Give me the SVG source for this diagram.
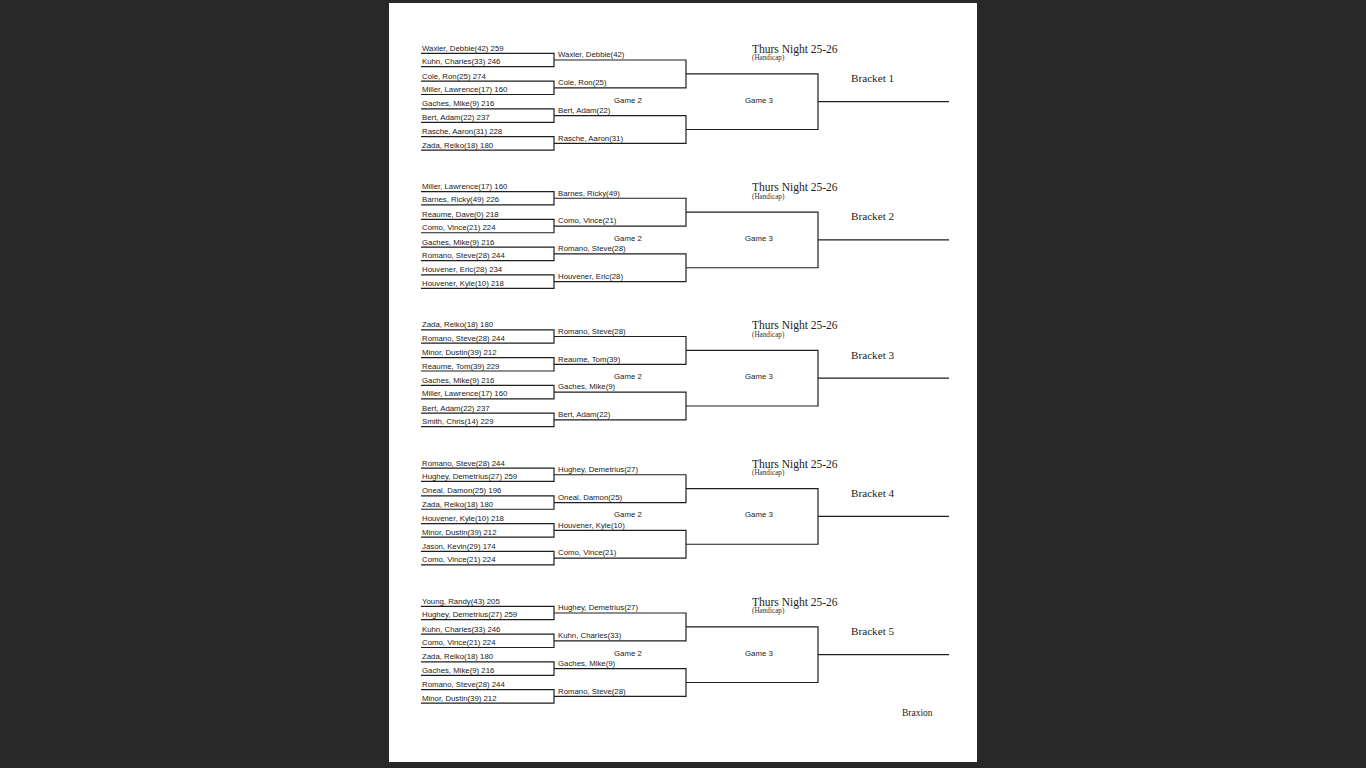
<svg xmlns="http://www.w3.org/2000/svg" xmlns:xlink="http://www.w3.org/1999/xlink" width="1366" height="768" viewBox="0 0 1366 768">
<style>
.ln{fill:none;stroke:#1e1e1e;stroke-width:1.2}
.nm{font-family:"Liberation Sans",Arial,sans-serif;font-size:7.8px;fill:#222}
.tt{font-family:"Liberation Serif","Times New Roman",serif;font-size:11.5px;fill:#222}
.hc{font-family:"Liberation Serif","Times New Roman",serif;font-size:7.2px;fill:#333}
.bk{font-family:"Liberation Serif","Times New Roman",serif;font-size:11.2px;fill:#222}
.bx{font-family:"Liberation Serif","Times New Roman",serif;font-size:9.5px;fill:#222}
</style>
<defs>
<path id="bl" class="ln" d="M421 53.3H554V66.7H421M421 81.1H554V94.5H421M421 108.9H554V122.3H421M421 136.7H554V150.1H421M554 60H686V87.8H554M554 115.6H686V143.4H554M686 73.9H818V129.5H686M818 101.7H949"/>
</defs>
<rect x="0" y="0" width="1366" height="768" fill="#282828"/>
<rect x="389" y="3" width="588" height="759" fill="#ffffff"/>
<g id="connectors">
<use xlink:href="#bl" href="#bl"/>
<use xlink:href="#bl" href="#bl" transform="translate(0,138.25)"/>
<use xlink:href="#bl" href="#bl" transform="translate(0,276.5)"/>
<use xlink:href="#bl" href="#bl" transform="translate(0,414.75)"/>
<use xlink:href="#bl" href="#bl" transform="translate(0,553)"/>
</g>
<g id="bracket1">
<text class="nm" x="422" y="50.8">Waxler, Debbie(42) 259</text>
<text class="nm" x="422" y="64.2">Kuhn, Charles(33) 246</text>
<text class="nm" x="422" y="78.6">Cole, Ron(25) 274</text>
<text class="nm" x="422" y="92">Miller, Lawrence(17) 160</text>
<text class="nm" x="422" y="106.4">Gaches, Mike(9) 216</text>
<text class="nm" x="422" y="119.8">Bert, Adam(22) 237</text>
<text class="nm" x="422" y="134.2">Rasche, Aaron(31) 228</text>
<text class="nm" x="422" y="147.6">Zada, Reiko(18) 180</text>
<text class="nm" x="558" y="57.3">Waxler, Debbie(42)</text>
<text class="nm" x="558" y="85.1">Cole, Ron(25)</text>
<text class="nm" x="558" y="112.9">Bert, Adam(22)</text>
<text class="nm" x="558" y="140.7">Rasche, Aaron(31)</text>
<text class="nm" x="614" y="102.5">Game 2</text>
<text class="nm" x="745" y="102.5">Game 3</text>
<text class="tt" x="752" y="52.8">Thurs Night 25-26</text>
<text class="hc" x="752" y="60.4">(Handicap)</text>
<text class="bk" x="851" y="82">Bracket 1</text>
</g>
<g id="bracket2" transform="translate(0,138.25)">
<text class="nm" x="422" y="50.8">Miller, Lawrence(17) 160</text>
<text class="nm" x="422" y="64.2">Barnes, Ricky(49) 226</text>
<text class="nm" x="422" y="78.6">Reaume, Dave(0) 218</text>
<text class="nm" x="422" y="92">Como, Vince(21) 224</text>
<text class="nm" x="422" y="106.4">Gaches, Mike(9) 216</text>
<text class="nm" x="422" y="119.8">Romano, Steve(28) 244</text>
<text class="nm" x="422" y="134.2">Houvener, Eric(28) 234</text>
<text class="nm" x="422" y="147.6">Houvener, Kyle(10) 218</text>
<text class="nm" x="558" y="57.3">Barnes, Ricky(49)</text>
<text class="nm" x="558" y="85.1">Como, Vince(21)</text>
<text class="nm" x="558" y="112.9">Romano, Steve(28)</text>
<text class="nm" x="558" y="140.7">Houvener, Eric(28)</text>
<text class="nm" x="614" y="102.5">Game 2</text>
<text class="nm" x="745" y="102.5">Game 3</text>
<text class="tt" x="752" y="52.8">Thurs Night 25-26</text>
<text class="hc" x="752" y="60.4">(Handicap)</text>
<text class="bk" x="851" y="82">Bracket 2</text>
</g>
<g id="bracket3" transform="translate(0,276.5)">
<text class="nm" x="422" y="50.8">Zada, Reiko(18) 180</text>
<text class="nm" x="422" y="64.2">Romano, Steve(28) 244</text>
<text class="nm" x="422" y="78.6">Minor, Dustin(39) 212</text>
<text class="nm" x="422" y="92">Reaume, Tom(39) 229</text>
<text class="nm" x="422" y="106.4">Gaches, Mike(9) 216</text>
<text class="nm" x="422" y="119.8">Miller, Lawrence(17) 160</text>
<text class="nm" x="422" y="134.2">Bert, Adam(22) 237</text>
<text class="nm" x="422" y="147.6">Smith, Chris(14) 229</text>
<text class="nm" x="558" y="57.3">Romano, Steve(28)</text>
<text class="nm" x="558" y="85.1">Reaume, Tom(39)</text>
<text class="nm" x="558" y="112.9">Gaches, Mike(9)</text>
<text class="nm" x="558" y="140.7">Bert, Adam(22)</text>
<text class="nm" x="614" y="102.5">Game 2</text>
<text class="nm" x="745" y="102.5">Game 3</text>
<text class="tt" x="752" y="52.8">Thurs Night 25-26</text>
<text class="hc" x="752" y="60.4">(Handicap)</text>
<text class="bk" x="851" y="82">Bracket 3</text>
</g>
<g id="bracket4" transform="translate(0,414.75)">
<text class="nm" x="422" y="50.8">Romano, Steve(28) 244</text>
<text class="nm" x="422" y="64.2">Hughey, Demetrius(27) 259</text>
<text class="nm" x="422" y="78.6">Oneal, Damon(25) 196</text>
<text class="nm" x="422" y="92">Zada, Reiko(18) 180</text>
<text class="nm" x="422" y="106.4">Houvener, Kyle(10) 218</text>
<text class="nm" x="422" y="119.8">Minor, Dustin(39) 212</text>
<text class="nm" x="422" y="134.2">Jason, Kevin(29) 174</text>
<text class="nm" x="422" y="147.6">Como, Vince(21) 224</text>
<text class="nm" x="558" y="57.3">Hughey, Demetrius(27)</text>
<text class="nm" x="558" y="85.1">Oneal, Damon(25)</text>
<text class="nm" x="558" y="112.9">Houvener, Kyle(10)</text>
<text class="nm" x="558" y="140.7">Como, Vince(21)</text>
<text class="nm" x="614" y="102.5">Game 2</text>
<text class="nm" x="745" y="102.5">Game 3</text>
<text class="tt" x="752" y="52.8">Thurs Night 25-26</text>
<text class="hc" x="752" y="60.4">(Handicap)</text>
<text class="bk" x="851" y="82">Bracket 4</text>
</g>
<g id="bracket5" transform="translate(0,553)">
<text class="nm" x="422" y="50.8">Young, Randy(43) 205</text>
<text class="nm" x="422" y="64.2">Hughey, Demetrius(27) 259</text>
<text class="nm" x="422" y="78.6">Kuhn, Charles(33) 246</text>
<text class="nm" x="422" y="92">Como, Vince(21) 224</text>
<text class="nm" x="422" y="106.4">Zada, Reiko(18) 180</text>
<text class="nm" x="422" y="119.8">Gaches, Mike(9) 216</text>
<text class="nm" x="422" y="134.2">Romano, Steve(28) 244</text>
<text class="nm" x="422" y="147.6">Minor, Dustin(39) 212</text>
<text class="nm" x="558" y="57.3">Hughey, Demetrius(27)</text>
<text class="nm" x="558" y="85.1">Kuhn, Charles(33)</text>
<text class="nm" x="558" y="112.9">Gaches, Mike(9)</text>
<text class="nm" x="558" y="140.7">Romano, Steve(28)</text>
<text class="nm" x="614" y="102.5">Game 2</text>
<text class="nm" x="745" y="102.5">Game 3</text>
<text class="tt" x="752" y="52.8">Thurs Night 25-26</text>
<text class="hc" x="752" y="60.4">(Handicap)</text>
<text class="bk" x="851" y="82">Bracket 5</text>
</g>
<g id="footer">
<text class="bx" x="902" y="716">Braxion</text>
</g>
</svg>
